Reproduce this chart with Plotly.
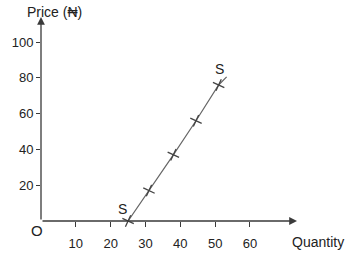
import plotly.graph_objects as go

quantity = [25, 31, 38, 44.5, 51]
price = [0, 17, 37, 56, 76]
line_end = (53.3, 80.5)
x_ticks = [10, 20, 30, 40, 50, 60]
y_ticks = [20, 40, 60, 80, 100]

ink = "#3a3a3a"
fam = "Liberation Sans, Arial, sans-serif"
font = dict(family=fam, size=13, color="#222")

fig = go.Figure()
fig.add_trace(go.Scatter(x=quantity + [line_end[0]], y=price + [line_end[1]], mode="lines",
                         line=dict(color="#666", width=1.2), cliponaxis=False, hoverinfo="skip"))
fig.add_trace(go.Scatter(x=quantity, y=price, mode="markers",
                         marker=dict(symbol="cross-thin", size=9, angle=25,
                                     line=dict(color="#444", width=1.3)),
                         cliponaxis=False, hoverinfo="skip"))

fig.update_layout(
    width=361, height=263, margin=dict(l=34, r=64, t=17, b=41),
    paper_bgcolor="white", plot_bgcolor="white", showlegend=False, font=font,
    xaxis=dict(range=[0, 73.5], tickvals=x_ticks, ticks="outside", ticklen=5, tickcolor=ink,
               showgrid=False, zeroline=False, showline=False, ticklabelstandoff=5, fixedrange=True),
    yaxis=dict(range=[0, 114], tickvals=y_ticks, ticks="outside", ticklen=4, tickcolor=ink,
               showgrid=False, zeroline=False, showline=False, fixedrange=True),
)

# axes with arrows
fig.add_annotation(x=73.5, y=0, ax=0, ay=0, xref="x", yref="y", axref="x", ayref="y",
                   showarrow=True, arrowhead=2, arrowsize=1.2, arrowwidth=1.3, arrowcolor=ink, text="")
fig.add_annotation(x=0, y=114, ax=0, ay=0, xref="x", yref="y", axref="x", ayref="y",
                   showarrow=True, arrowhead=2, arrowsize=1.2, arrowwidth=1.3, arrowcolor=ink, text="")

fig.add_annotation(x=0, y=114, xref="x", yref="y", text="Price (₦)", showarrow=False,
                   xanchor="left", yanchor="bottom", xshift=-16, yshift=-5,
                   font=dict(family=fam, size=14, color="#222"))
fig.add_annotation(x=73.5, y=0, xref="x", yref="y", text="Quantity", showarrow=False,
                   xanchor="center", yanchor="top", xshift=21, yshift=-11,
                   font=dict(family=fam, size=14, color="#222"))
fig.add_annotation(x=0, y=0, xref="x", yref="y", text="O", showarrow=False,
                   xanchor="center", yanchor="top", xshift=-4, yshift=1,
                   font=dict(family=fam, size=15, color="#222"))
fig.add_annotation(x=quantity[0], y=price[0], xref="x", yref="y", text="S", showarrow=False,
                   xanchor="center", yanchor="bottom", xshift=-6, yshift=2,
                   font=dict(family=fam, size=14, color="#222"))
fig.add_annotation(x=quantity[-1], y=price[-1], xref="x", yref="y", text="S", showarrow=False,
                   xanchor="center", yanchor="bottom", xshift=1, yshift=6,
                   font=dict(family=fam, size=14, color="#222"))

fig.write_html("out.html")
